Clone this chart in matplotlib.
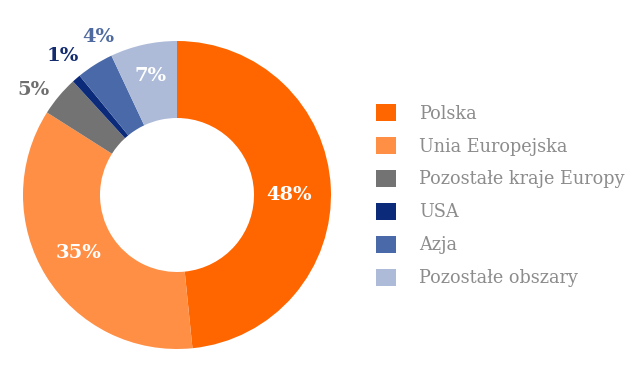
import numpy as np
import matplotlib
matplotlib.use('Agg')
import matplotlib.pyplot as plt
from matplotlib.patches import Patch

# Udział w sprzedaży wg regionu (%)
regions = ['Polska', 'Unia Europejska', 'Pozostałe kraje Europy', 'USA', 'Azja', 'Pozostałe obszary']
shares = [48.4, 35.6, 4.2, 0.9, 3.9, 7.0]
share_labels = ['48%', '35%', '5%', '1%', '4%', '7%']
colors = ['#FF6600', '#FF8F45', '#737373', '#0B2A7A', '#4A69A8', '#ADBBD9']
label_colors = ['white', 'white', '#6E6E6E', '#142C6E', '#4F6A9E', 'white']
# label placement: radius (fraction of outer radius) and angle shift from wedge middle (deg)
label_r = [0.727, 0.74, 1.156, 1.167, 1.147, 0.79]
label_shift = [-2.85, -1.1, 3.7, -1.3, -5.9, 0.1]

plt.rcParams['font.family'] = ['DejaVu Serif']

fig = plt.figure(figsize=(6.39, 3.87), dpi=100)
W, H = 639, 387
cx, cy, R = 177, 387 - 195, 154
ax = fig.add_axes([(cx - R) / W, (cy - R) / H, 2 * R / W, 2 * R / H])

wedges, _ = ax.pie(shares, colors=colors, startangle=90, counterclock=False,
                   radius=1.0, wedgeprops=dict(width=0.5, edgecolor='none'))
ax.set_xlim(-1, 1)
ax.set_ylim(-1, 1)
ax.set_aspect('equal')
ax.axis('off')

for w, lab, col, r, sh in zip(wedges, share_labels, label_colors, label_r, label_shift):
    ang = np.deg2rad((w.theta1 + w.theta2) / 2 + sh)
    ax.text(r * np.cos(ang), r * np.sin(ang), lab, ha='center', va='center',
            color=col, fontsize=14, fontweight='bold', clip_on=False)

handles = [Patch(facecolor=c, edgecolor='none') for c in colors]
fs = 12.7
leg = fig.legend(handles, regions, loc='upper left', bbox_to_anchor=(360 / W, 1 - 88 / H),
                 frameon=False, fontsize=fs, handlelength=1.14, handleheight=1.14,
                 handletextpad=1.3, labelspacing=0.81, labelcolor='#8C8C8C')

fig.savefig('out.png', dpi=100)
